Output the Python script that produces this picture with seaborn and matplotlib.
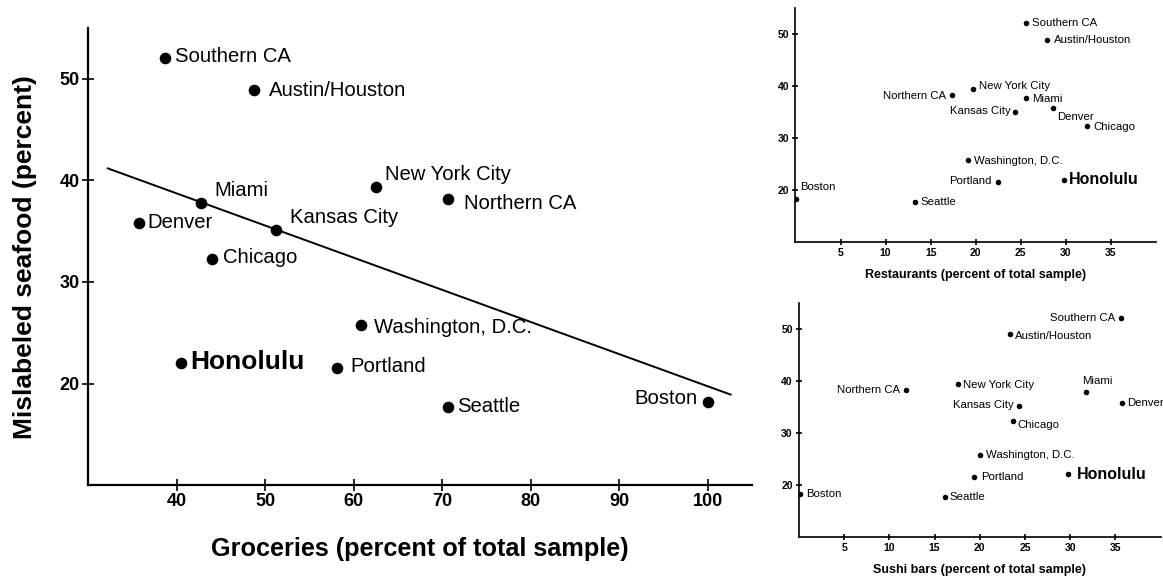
import numpy as np
import pandas as pd
import matplotlib
matplotlib.use("Agg")
import matplotlib.pyplot as plt
import seaborn as sns

# city order shared by every panel
cities = ['Southern CA', 'Austin/Houston', 'New York City', 'Northern CA', 'Miami',
          'Denver', 'Kansas City', 'Chicago', 'Washington, D.C.', 'Honolulu',
          'Portland', 'Seattle', 'Boston']

mislabeled = [52.1, 48.9, 39.4, 38.2, 37.8, 35.8, 35.1, 32.3, 25.8, 22.0, 21.5, 17.7, 18.2]
groceries = [38.7, 48.7, 62.5, 70.7, 42.8, 35.7, 51.2, 44.0, 60.8, 40.5, 58.1, 70.6, 100.0]
restaurants = [25.6, 27.9, 19.7, 17.4, 25.6, 28.6, 24.4, 32.3, 19.1, 29.8, 22.5, 13.3, 0.1]
sushi_bars = [35.6, 23.3, 17.6, 11.8, 31.7, 35.7, 24.3, 23.7, 20.0, 29.8, 19.4, 16.1, 0.1]

# trend line drawn in the groceries panel (end points)
fit_x = [32.2, 102.6]
fit_y = [41.2, 18.9]

df = pd.DataFrame({'city': cities, 'mislabeled': mislabeled, 'groceries': groceries,
                   'restaurants': restaurants, 'sushi': sushi_bars})

# label offsets in pixels (dx, dy, ha)
main_off = {'Southern CA': (10, 1, 'left'), 'Austin/Houston': (15, 0, 'left'),
            'New York City': (9, 12, 'left'), 'Northern CA': (16, -5, 'left'),
            'Miami': (13, 12, 'left'), 'Denver': (9, 1, 'left'),
            'Kansas City': (14, 13, 'left'), 'Chicago': (11, 1, 'left'),
            'Washington, D.C.': (13, -3, 'left'), 'Honolulu': (9, 1, 'left'),
            'Portland': (14, 2, 'left'), 'Seattle': (10, 0, 'left'),
            'Boston': (-10, 3, 'right')}
rest_off = {'Southern CA': (6, 0, 'left'), 'Austin/Houston': (7, 0, 'left'),
            'New York City': (6, 3, 'left'), 'Northern CA': (-6, -1, 'right'),
            'Miami': (6, -1, 'left'), 'Denver': (4, -9, 'left'),
            'Kansas City': (-5, 1, 'right'), 'Chicago': (7, -1, 'left'),
            'Washington, D.C.': (6, -1, 'left'), 'Honolulu': (5, 0, 'left'),
            'Portland': (-7, 1, 'right'), 'Seattle': (5, 0, 'left'),
            'Boston': (4, 12, 'left')}
sushi_off = {'Southern CA': (-6, 0, 'right'), 'Austin/Houston': (5, -2, 'left'),
             'New York City': (5, -1, 'left'), 'Northern CA': (-6, 0, 'right'),
             'Miami': (-3, 11, 'left'), 'Denver': (5, 0, 'left'),
             'Kansas City': (-5, 1, 'right'), 'Chicago': (4, -4, 'left'),
             'Washington, D.C.': (6, 0, 'left'), 'Honolulu': (8, 0, 'left'),
             'Portland': (7, 0, 'left'), 'Seattle': (5, 0, 'left'),
             'Boston': (6, 0, 'left')}

sns.set_style('ticks', {'axes.edgecolor': 'black', 'text.color': 'black',
                        'axes.labelcolor': 'black', 'xtick.color': 'black',
                        'ytick.color': 'black'})
plt.rcParams['font.family'] = ['Liberation Sans', 'DejaVu Sans']

fig = plt.figure(figsize=(11.63, 5.79), dpi=100)
ax_main = fig.add_axes([0.0757, 0.1623, 0.571, 0.789])
ax_rest = fig.add_axes([0.684, 0.582, 0.310, 0.404])
ax_sushi = fig.add_axes([0.687, 0.0725, 0.311, 0.405])


def draw_panel(ax, xcol, offsets, dot, fs, fs_hon, tick_fs, tick_len):
    sns.scatterplot(data=df, x=xcol, y='mislabeled', ax=ax, color='black',
                    s=dot, linewidth=0, zorder=3)
    for _, row in df.iterrows():
        dx, dy, ha = offsets[row.city]
        bold = row.city == 'Honolulu'
        ax.annotate(row.city, (row[xcol], row.mislabeled), xytext=(dx, dy),
                    textcoords='offset pixels', ha=ha, va='center', color='black',
                    fontsize=fs_hon if bold else fs,
                    fontweight='bold' if bold else 'normal')
    ax.set_ylim(10, 55)
    ax.set_yticks([20, 30, 40, 50])
    sns.despine(ax=ax)
    for side in ['left', 'bottom']:
        ax.spines[side].set_linewidth(1.6)
    ax.tick_params(direction='inout', length=tick_len, width=1.2,
                   labelsize=tick_fs, pad=2, colors='black')


draw_panel(ax_main, 'groceries', main_off, 70, 14.6, 19, 13, 8)
sns.lineplot(x=fit_x, y=fit_y, ax=ax_main, color='black', linewidth=1.4)
ax_main.set_xlim(30, 105)
ax_main.set_xticks(range(40, 101, 10))
for lab in ax_main.get_xticklabels() + ax_main.get_yticklabels():
    lab.set_fontweight('bold')
ax_main.set_xlabel('Groceries (percent of total sample)', fontsize=18.2,
                   fontweight='bold', labelpad=19)
ax_main.set_ylabel('Mislabeled seafood (percent)', fontsize=19,
                   fontweight='bold', labelpad=16)

for ax, col, off, lbl in [(ax_rest, 'restaurants', rest_off, 'Restaurants (percent of total sample)'),
                          (ax_sushi, 'sushi', sushi_off, 'Sushi bars (percent of total sample)')]:
    draw_panel(ax, col, off, 16, 8.2, 11.5, 7.5, 5)
    ax.set_xlim(0, 40)
    ax.set_xticks(range(5, 36, 5))
    for lab in ax.get_xticklabels() + ax.get_yticklabels():
        lab.set_fontweight('bold')
    ax.set_xlabel(lbl, fontsize=9, fontweight='bold', labelpad=8)
    ax.set_ylabel('')
    for side in ['left', 'bottom']:
        ax.spines[side].set_linewidth(1.2)

fig.savefig('out.png', dpi=100, facecolor='white')
